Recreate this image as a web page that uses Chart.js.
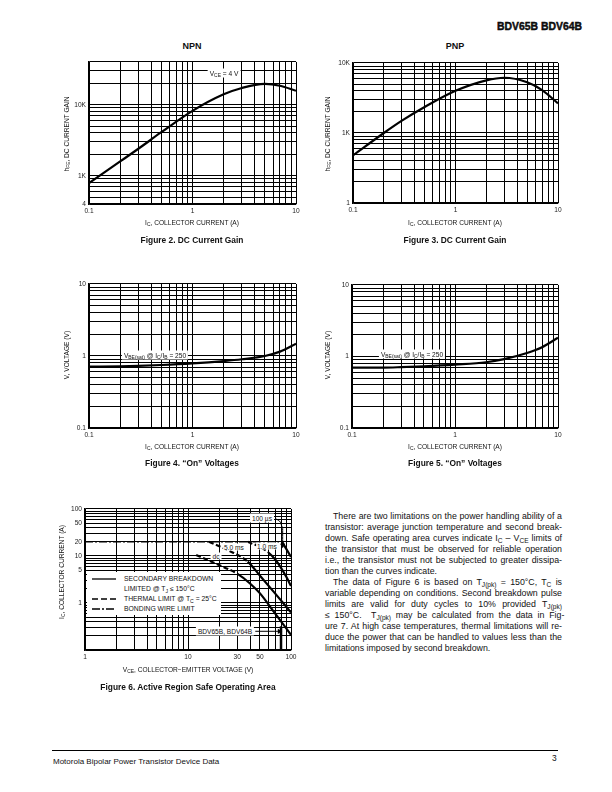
<!DOCTYPE html>
<html>
<head>
<meta charset="utf-8">
<script src="https://cdn.jsdelivr.net/npm/chart.js@4.4.1/dist/chart.umd.min.js"></script>
<style>
body{margin:0;width:612px;height:792px;position:relative;background:#fff;font-family:"Liberation Sans",Arial,sans-serif;color:#111;overflow:hidden}
.a{position:absolute;white-space:nowrap}
canvas{position:absolute}
.c{transform:translate(-50%,-50%)}
.t{font-size:6.6px}
.yt{font-size:6.6px;transform:translate(-50%,-50%) rotate(-90deg)}
.ttl{font-weight:bold;font-size:9px}
.cap{font-weight:bold;font-size:8.4px}
.box{background:#fff;padding:1px 2px;font-size:6.6px;z-index:2}
sub{font-size:75%;vertical-align:-0.3em;line-height:0}
.pl{position:absolute;white-space:nowrap;font-size:8.8px;display:inline-block;transform-origin:0 0}
.lg{position:absolute;left:87px;top:572px;width:134px;height:43px;background:#fff;z-index:2;font-size:6.8px}
.lg div{position:absolute;left:37px;white-space:nowrap}
.lg svg{position:absolute;left:5px}
</style>
</head>
<body>
<div class="a" style="right:30px;top:21px;font-weight:900;font-size:10.4px;-webkit-text-stroke:0.4px #000">BDV65B BDV64B</div>

<div class="a c ttl" style="left:192px;top:46px">NPN</div>
<div class="a c ttl" style="left:455px;top:46px">PNP</div>

<canvas id="c2" width="247" height="165" style="left:59px;top:55px"></canvas>
<canvas id="c3" width="245" height="163" style="left:323px;top:56px"></canvas>
<canvas id="c4" width="247" height="167" style="left:59px;top:277px"></canvas>
<canvas id="c5" width="246" height="166" style="left:322px;top:278px"></canvas>
<canvas id="c6" width="246" height="164" style="left:55px;top:502px"></canvas>

<!-- axis titles -->
<div class="a yt" style="left:66px;top:134px">h<sub>FE</sub>, DC CURRENT GAIN</div>
<div class="a c t" style="left:192px;top:222px">I<sub>C</sub>, COLLECTOR CURRENT (A)</div>
<div class="a yt" style="left:327px;top:134px">h<sub>FE</sub>, DC CURRENT GAIN</div>
<div class="a c t" style="left:455px;top:222px">I<sub>C</sub>, COLLECTOR CURRENT (A)</div>
<div class="a yt" style="left:66px;top:355px">V, VOLTAGE (V)</div>
<div class="a c t" style="left:192px;top:446px">I<sub>C</sub>, COLLECTOR CURRENT (A)</div>
<div class="a yt" style="left:327px;top:355px">V, VOLTAGE (V)</div>
<div class="a c t" style="left:455px;top:446px">I<sub>C</sub>, COLLECTOR CURRENT (A)</div>
<div class="a yt" style="left:61px;top:572px">I<sub>C</sub>, COLLECTOR CURRENT (A)</div>
<div class="a c t" style="left:188px;top:669px">V<sub>CE</sub>, COLLECTOR−EMITTER VOLTAGE (V)</div>

<!-- in-plot labels -->
<div class="a c box" style="left:224px;top:73px">V<sub>CE</sub> = 4 V</div>
<div class="a c box" style="left:155px;top:355px">V<sub>BE(sat)</sub> @ I<sub>C</sub>/I<sub>B</sub> = 250</div>
<div class="a c box" style="left:412px;top:354px">V<sub>BE(sat)</sub> @ I<sub>C</sub>/I<sub>B</sub> = 250</div>
<div class="a c box" style="left:262px;top:518px">100 µs</div>
<div class="a c box" style="left:234px;top:547px;padding:0 1px">5.0 ms</div>
<div class="a c box" style="left:267px;top:546px;padding:0 1px">1.0 ms</div>
<div class="a c box" style="left:216px;top:556px;padding:0 2px">dc</div>
<div class="a c box" style="left:225px;top:631px">BDV65B, BDV64B</div>

<div class="lg">
  <svg width="24" height="43"><g stroke="#000" stroke-width="1.3">
    <line x1="0" y1="7" x2="24" y2="7"/>
    <line x1="0" y1="27" x2="24" y2="27" stroke-dasharray="6,3"/>
    <line x1="0" y1="37" x2="24" y2="37" stroke-dasharray="8,2,2,2"/></g></svg>
  <div style="top:3px">SECONDARY BREAKDOWN</div>
  <div style="top:13px">LIMITED @ T<sub>J</sub> ≤ 150°C</div>
  <div style="top:23px">THERMAL LIMIT @ T<sub>C</sub> = 25°C</div>
  <div style="top:33px">BONDING WIRE LIMIT</div>
</div>

<div class="a c cap" style="left:192px;top:240px">Figure 2. DC Current Gain</div>
<div class="a c cap" style="left:455px;top:240px">Figure 3. DC Current Gain</div>
<div class="a c cap" style="left:192px;top:463px">Figure 4. “On” Voltages</div>
<div class="a c cap" style="left:455px;top:463px">Figure 5. “On” Voltages</div>
<div class="a c cap" style="left:188px;top:687px">Figure 6. Active Region Safe Operating Area</div>

<!-- text column -->
<div class="pl ind" style="left:333px;top:511px">There are two limitations on the power handling ability of a</div>
<div class="pl" style="left:325px;top:522px">transistor: average junction temperature and second break-</div>
<div class="pl" style="left:325px;top:533px">down. Safe operating area curves indicate I<sub>C</sub> – V<sub>CE</sub> limits of</div>
<div class="pl" style="left:325px;top:544px">the transistor that must be observed for reliable operation</div>
<div class="pl" style="left:325px;top:555px">i.e., the transistor must not be subjected to greater dissipa-</div>
<div class="pl last" style="left:325px;top:566px">tion than the curves indicate.</div>
<div class="pl ind" style="left:333px;top:577px">The data of Figure 6 is based on T<sub>J(pk)</sub> = 150°C, T<sub>C</sub> is</div>
<div class="pl" style="left:325px;top:588px">variable depending on conditions. Second breakdown pulse</div>
<div class="pl" style="left:325px;top:599px">limits are valid for duty cycles to 10% provided T<sub>J(pk)</sub></div>
<div class="pl" style="left:325px;top:610px">≤ 150°C.&nbsp; T<sub>J(pk)</sub> may be calculated from the data in Fig-</div>
<div class="pl" style="left:325px;top:621px">ure 7. At high case temperatures, thermal limitations will re-</div>
<div class="pl" style="left:325px;top:632px">duce the power that can be handled to values less than the</div>
<div class="pl last" style="left:325px;top:643px">limitations imposed by second breakdown.</div>

<div class="a" style="left:52px;top:750px;width:506px;height:1px;background:#000"></div>
<div class="a" style="left:53px;top:757px;font-size:8px">Motorola Bipolar Power Transistor Device Data</div>
<div class="a" style="left:552px;top:753px;font-size:8.4px">3</div>

<script>
// collector current axis (A) and tick labels
const icTicks = [0.1, 1, 10];
const icText = ['0.1', '1', '10'];
const icPoints = [0.1, 0.2, 0.3, 0.5, 1, 2, 3, 5, 7, 10];

// Figure 2 / 3: DC current gain
const npnGainTicks = [400, 1000, 10000];
const npnGainText = ['4', '1K', '10K'];
const npnHfe = [790, 1590, 2400, 4100, 8200, 14000, 17200, 19600, 18500, 15700];
const pnpGainTicks = [100, 1000, 10000];
const pnpGainText = ['1', '1K', '10K'];
const pnpHfe = [480, 1000, 1500, 2350, 4000, 5650, 6150, 5300, 4100, 2650];

// Figure 4 / 5: on voltages
const voltTicks = [0.1, 1, 10];
const voltText = ['0.1', '1', '10'];
const npnVbe = [0.71, 0.72, 0.73, 0.75, 0.79, 0.85, 0.9, 1.0, 1.15, 1.48];
const pnpVbe = [0.7, 0.7, 0.71, 0.73, 0.77, 0.83, 0.92, 1.12, 1.35, 1.83];

// Figure 6: safe operating area
const vceTicks = [1, 10, 30, 50, 100];
const vceText = ['1', '10', '30', '50', '100'];
const soaTicks = [1, 5, 10, 20, 50, 100];
const soaText = ['1', '5', '10', '20', '50', '100'];
const bondV = [1, 82];
const bondI = [20, 20];
const us100V = [82, 100];
const us100I = [20, 9.5];
const ms1V = [38, 50, 60, 70, 80, 90, 100];
const ms1I = [20, 15.5, 12, 8.5, 5.6, 3.6, 2.3];
const ms5V = [16, 25, 38, 50, 70, 100];
const ms5I = [20, 13, 7.6, 3.8, 1.6, 0.63];
const dcV = [12, 20, 30, 40, 50, 70, 100];
const dcI = [10.5, 6.4, 4.2, 2.6, 1.6, 0.6, 0.21];
const arrowV = [71, 79, 83, 83];
const arrowI = [62, 52, 40, 17];
const ratingV = [80, 80];
const ratingI = [0.1, 0.32];
const tagV = [45, 77];
const tagI = [0.25, 0.25];

// fit the justified text lines
document.querySelectorAll('.pl').forEach(el => {
  if (el.classList.contains('last')) return;
  const W = el.classList.contains('ind') ? 229 : 237;
  const w = el.getBoundingClientRect().width;
  const n = (el.textContent.match(/ /g) || []).length;
  const ws = (W - w) / n;
  if (ws >= -0.8) el.style.wordSpacing = ws + 'px';
  else el.style.transform = 'scaleX(' + (W / w) + ')';
});

function logGrid(lo, hi) {
  const out = [];
  for (let e = Math.floor(Math.log10(lo)); e <= Math.ceil(Math.log10(hi)); e++) {
    for (let k = 1; k < 10; k++) {
      const v = Number((k * Math.pow(10, e)).toPrecision(6));
      if (v >= lo * 0.999 && v <= hi * 1.001) out.push(v);
    }
  }
  return out;
}

function axis(lo, hi, vals, txt, fit) {
  return {
    type: 'logarithmic', min: lo, max: hi,
    afterBuildTicks: s => { s.ticks = logGrid(lo, hi).map(v => ({ value: v })); },
    afterFit: fit,
    ticks: {
      autoSkip: false, maxRotation: 0, padding: 3, color: '#222',
      font: { family: 'Liberation Sans', size: 6.6 },
      callback: v => {
        const i = vals.findIndex(t => Math.abs(t - v) / t < 1e-6);
        return i < 0 ? '' : txt[i];
      }
    },
    grid: { color: '#000', lineWidth: 1, drawTicks: false },
    border: { color: '#000', width: 1.3 }
  };
}

function line(xs, ys, extra) {
  return Object.assign({
    data: xs.map((x, i) => ({ x, y: ys[i] })),
    borderColor: '#000', borderWidth: 2.2, pointRadius: 0,
    cubicInterpolationMode: 'monotone', fill: false
  }, extra || {});
}

function plot(id, xr, xl, yr, yl, sets) {
  new Chart(document.getElementById(id), {
    type: 'line',
    data: { datasets: sets },
    options: {
      responsive: false, animation: false, events: [],
      layout: { padding: { top: 6, right: 10, left: 0, bottom: 0 } },
      plugins: { legend: { display: false }, tooltip: { enabled: false } },
      scales: {
        x: axis(xr[0], xr[1], xl[0], xl[1], s => { s.height = 16; }),
        y: axis(yr[0], yr[1], yl[0], yl[1], s => { s.width = 30; })
      }
    }
  });
}

const dashTo = n => ({ segment: { borderDash: c => (c.p1DataIndex <= n ? [5, 2.5] : undefined) } });

plot('c2', [0.1, 10], [icTicks, icText], [400, 40000], [npnGainTicks, npnGainText], [line(icPoints, npnHfe)]);
plot('c3', [0.1, 10], [icTicks, icText], [100, 10000], [pnpGainTicks, pnpGainText], [line(icPoints, pnpHfe)]);
plot('c4', [0.1, 10], [icTicks, icText], [0.1, 10], [voltTicks, voltText], [line(icPoints, npnVbe)]);
plot('c5', [0.1, 10], [icTicks, icText], [0.1, 10], [voltTicks, voltText], [line(icPoints, pnpVbe)]);
plot('c6', [1, 100], [vceTicks, vceText], [0.1, 100], [soaTicks, soaText], [
  line(bondV, bondI, { borderDash: [8, 2, 2, 2], borderWidth: 1.6 }),
  line(us100V, us100I),
  line(ms1V, ms1I, dashTo(2)),
  line(ms5V, ms5I, dashTo(2)),
  line(dcV, dcI, dashTo(2)),
  line(arrowV, arrowI, { borderWidth: 1, pointRadius: [0, 0, 0, 3], pointStyle: 'triangle', pointRotation: 180, pointBackgroundColor: '#000', pointBorderWidth: 0 }),
  line(ratingV, ratingI, { borderWidth: 2.5 }),
  line(tagV, tagI, { borderWidth: 1, pointRadius: [0, 3], pointStyle: 'triangle', pointRotation: 90, pointBackgroundColor: '#000', pointBorderWidth: 0 })
]);
</script>
</body>
</html>
